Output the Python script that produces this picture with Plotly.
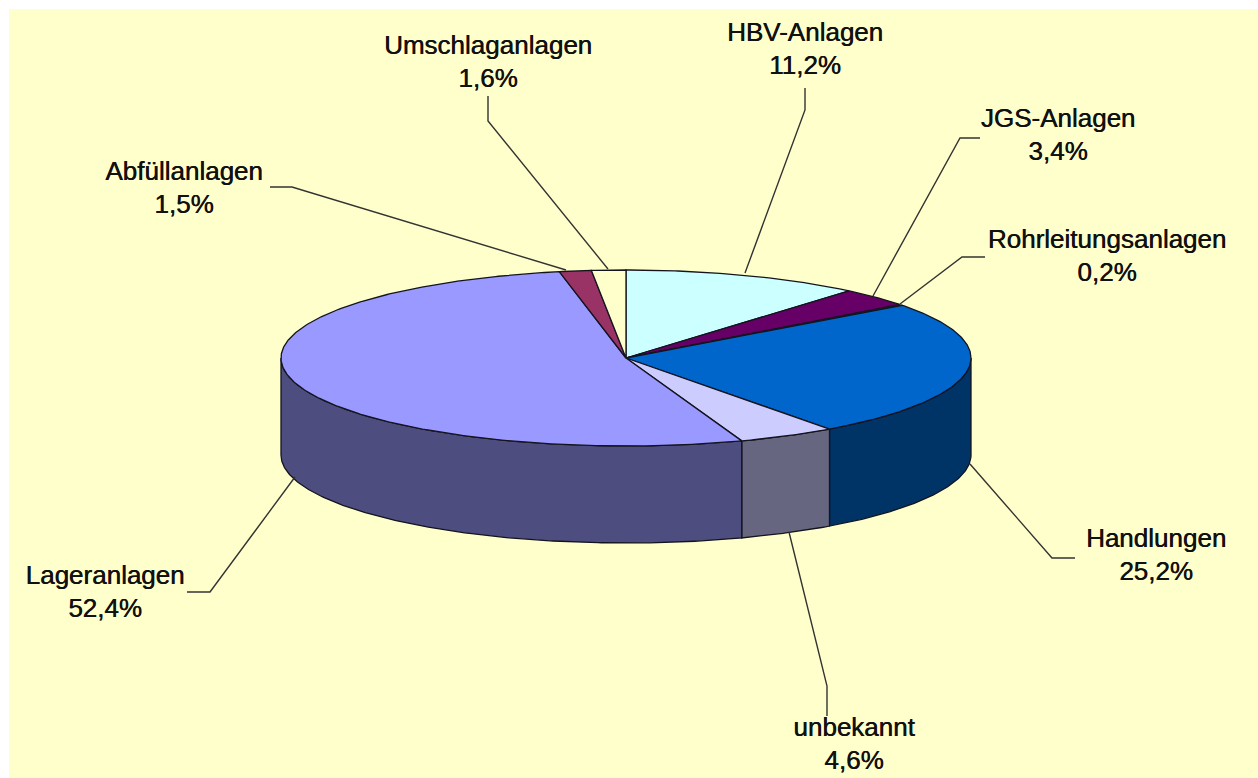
import numpy as np
import plotly.graph_objects as go

# ---- data ----
categories = ["HBV-Anlagen", "JGS-Anlagen", "Rohrleitungsanlagen", "Handlungen",
              "unbekannt", "Lageranlagen", "Abfüllanlagen", "Umschlaganlagen"]
values = [11.2, 3.4, 0.2, 25.2, 4.6, 52.4, 1.5, 1.6]
value_labels = ["11,2%", "3,4%", "0,2%", "25,2%", "4,6%", "52,4%", "1,5%", "1,6%"]
top_colors = ["#CCFFFF", "#660066", "#FF8080", "#0066CC", "#CCCCFF", "#9999FF", "#993366", "#FFFFCC"]
side_colors = ["#668080", "#330033", "#804040", "#003366", "#666680", "#4D4D80", "#4D1A33", "#808066"]

# ---- layout constants ----
W, H = 1258, 778
BG_LEFT, BG_TOP = 9, 9
CX, CY, RX, RY, DEPTH = 626, 358, 345, 88, 97
EDGE = "#14141f"
LEADER = "#333333"
label_pos = [(805, 51), (1058, 137), (1107, 258), (1156, 557), (854, 746), (105, 594), (184, 190), (488, 64)]
leader_paths = [
    [(805, 88), (805, 110), (745, 273)],
    [(980, 138), (960, 138), (873, 296)],
    [(985, 257), (962, 257), (900, 304)],
    [(1075, 558), (1052, 558), (970, 464)],
    [(827, 716), (827, 686), (789, 532)],
    [(187, 592), (210, 592), (295, 477)],
    [(270, 187), (292, 187), (566, 270)],
    [(488, 96), (488, 121), (608, 269)],
]


def ex(t):
    return CX + RX * np.sin(t)


def ey(t, dz=0):
    return CY - RY * np.cos(t) + dz


fig = go.Figure()
total = sum(values)
bounds = np.radians(np.concatenate([[0], np.cumsum(values)]) / total * 360)


def add_poly(x, y, color):
    fig.add_trace(go.Scatter(x=x, y=y, mode="lines", fill="toself", fillcolor=color,
                             line=dict(color=EDGE, width=1.3), hoverinfo="skip", showlegend=False))


# side walls (front half only)
lo, hi = np.pi / 2, 3 * np.pi / 2
for i in range(len(values)):
    a, b = max(bounds[i], lo), min(bounds[i + 1], hi)
    if b <= a:
        continue
    t = np.linspace(a, b, max(3, int(np.degrees(b - a)) * 2))
    x = np.concatenate([ex(t), ex(t[::-1]), ex(t[:1])])
    y = np.concatenate([ey(t), ey(t[::-1], DEPTH), ey(t[:1])])
    add_poly(x, y, side_colors[i])

# top faces
for i in range(len(values)):
    t = np.linspace(bounds[i], bounds[i + 1], max(3, int(np.degrees(bounds[i + 1] - bounds[i])) * 2))
    x = np.concatenate([[CX], ex(t), [CX]])
    y = np.concatenate([[CY], ey(t), [CY]])
    add_poly(x, y, top_colors[i])

# leader lines
for path in leader_paths:
    fig.add_trace(go.Scatter(x=[p[0] for p in path], y=[p[1] for p in path], mode="lines",
                             line=dict(color=LEADER, width=1.4), hoverinfo="skip", showlegend=False))

# labels
fig.add_trace(go.Scatter(
    x=[p[0] for p in label_pos], y=[p[1] for p in label_pos], mode="text",
    text=[f"{c}<br>{v}" for c, v in zip(categories, value_labels)],
    textposition="middle center",
    textfont=dict(family="Liberation Sans, Arial, sans-serif", size=26, color="#111111",
                  shadow="0.5px 0 0.4px #111111"),
    hoverinfo="skip", showlegend=False, cliponaxis=False))

fig.update_layout(
    width=W, height=H, margin=dict(l=BG_LEFT, t=BG_TOP, r=0, b=0),
    paper_bgcolor="white", plot_bgcolor="#FFFFCC",
    xaxis=dict(range=[BG_LEFT, W], visible=False, fixedrange=True),
    yaxis=dict(range=[H, BG_TOP], visible=False, fixedrange=True),
    showlegend=False,
)
fig.write_html("out.html", post_script="document.body.style.margin='0';document.body.style.overflow='hidden';",
               config={"displayModeBar": False})
